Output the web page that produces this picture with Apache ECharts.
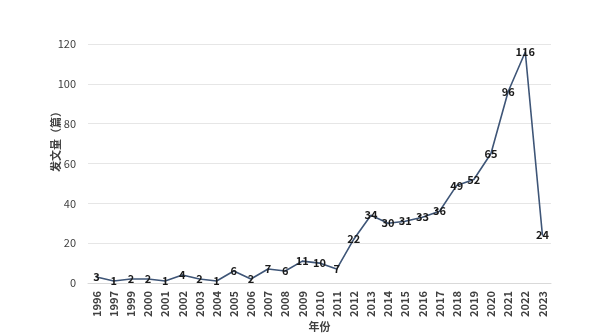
<!DOCTYPE html>
<html><head><meta charset="utf-8">
<script src="https://cdn.jsdelivr.net/npm/echarts@6/dist/echarts.min.js"></script>
<style>html,body{margin:0;padding:0;background:#fff}#c{width:600px;height:335px}</style>
</head><body><div id="c"></div>
<script>
var years = ['1996','1997','1999','2000','2001','2002','2003','2004','2005','2006','2007','2008','2009','2010','2011','2012','2013','2014','2015','2016','2017','2018','2019','2020','2021','2022','2023'];
var counts = [3,1,2,2,1,4,2,1,6,2,7,6,11,10,7,22,34,30,31,33,36,49,52,65,96,116,24];
var yTicks = [0,20,40,60,80,100,120];
var font = '"Noto Sans CJK SC", "Noto Sans", sans-serif';
var chart = echarts.init(document.getElementById('c'));
chart.setOption({
  animation: false,
  grid: {left: 88, right: 49, top: 44, bottom: 52, outerBoundsMode: 'none', containLabel: false},
  graphic: [{
    type: 'text', left: 50, top: 106, rotation: Math.PI/2,
    style: {text: '发文量（篇）', font: 'bold 11px ' + font, fill: '#404040'}
  }],
  xAxis: {
    type: 'category', data: years, boundaryGap: true,
    name: '年份', nameLocation: 'middle', nameGap: 38, nameMoveOverlap: false,
    nameTextStyle: {fontFamily: font, fontSize: 11, color: '#404040', fontWeight: 'bold'},
    axisLine: {lineStyle: {color: '#d9d9d9'}},
    axisTick: {show: false},
    axisLabel: {rotate: 90, interval: 0, fontFamily: font, fontSize: 11, color: '#404040', margin: 8, fontWeight: 'bold'}
  },
  yAxis: {
    type: 'value', min: yTicks[0], max: yTicks[yTicks.length-1], interval: 20,
    axisLine: {show: false}, axisTick: {show: false},
    axisLabel: {fontFamily: font, fontSize: 11, color: '#404040', margin: 12},
    splitLine: {lineStyle: {color: '#e6e6e6'}}
  },
  series: [{
    type: 'line', data: counts,
    symbol: 'circle', symbolSize: 1, showSymbol: true,
    itemStyle: {color: '#3E5577'},
    lineStyle: {color: '#3E5577', width: 1.6},
    label: {show: true, position: 'inside', fontFamily: font, fontSize: 11, fontWeight: 'bold', color: '#1a1a1a'}
  }]
});
</script></body></html>
